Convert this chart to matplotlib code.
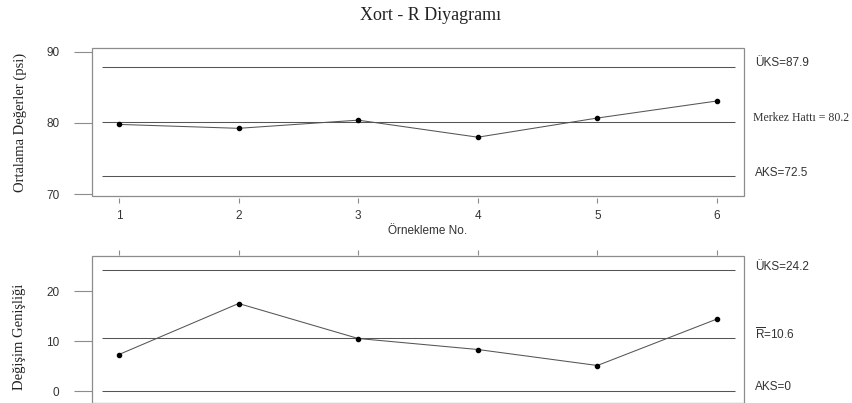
import matplotlib
matplotlib.use("Agg")
import matplotlib.pyplot as plt
from matplotlib.patches import Rectangle
from matplotlib import transforms

# ---- data ----
samples = [1, 2, 3, 4, 5, 6]
xbar = [79.8, 79.25, 80.4, 78.0, 80.7, 83.1]
ranges = [7.3, 17.5, 10.5, 8.3, 5.1, 14.4]
xbar_limits = [87.9, 80.2, 72.5]          # UKS, CL, AKS
r_limits = [24.2, 10.6, 0.0]              # UKS, Rbar, AKS
xbar_labels = ["ÜKS=87.9", "Merkez Hattı = 80.2", "AKS=72.5"]
r_labels = ["ÜKS=24.2", r"$\overline{\mathrm{R}}$=10.6", "AKS=0"]
xbar_yticks = [70, 80, 90]
r_yticks = [0, 10, 20]

plt.rcParams['mathtext.fontset'] = 'custom'
plt.rcParams['mathtext.rm'] = 'Liberation Sans'
plt.rcParams['font.family'] = 'Liberation Sans'

W, H = 852, 403
fig = plt.figure(figsize=(W / 100, H / 100), dpi=100)

def fx(px):
    return px / W

def fy(py):
    return 1 - py / H

LINE = '#555555'
FRAME = '#8c8c8c'
TICKC = '#8c8c8c'
TXT = '#333333'

ax1 = fig.add_axes([fx(92), fy(196), fx(744) - fx(92), fy(48) - fy(196)])
ax2 = fig.add_axes([fx(92), 0.0, fx(744) - fx(92), fy(256)])

xl = (0.7742, 6.2258)
ax1.set_xlim(*xl)
ax1.set_ylim(69.72, 90.56)
ax2.set_xlim(*xl)
ax2.set_ylim(-2.4, 27.0)

hl_x0, hl_x1 = 0.858, 6.15

for ax, vals, lims, ticks in [(ax1, xbar, xbar_limits, xbar_yticks),
                              (ax2, ranges, r_limits, r_yticks)]:
    for s in ax.spines.values():
        s.set_visible(False)
    ax.add_patch(Rectangle((0, 0), 1, 1, transform=ax.transAxes, fill=False,
                           ec=FRAME, lw=0.9, clip_on=False, zorder=5))
    ax.hlines(lims, hl_x0, hl_x1, colors=LINE, lw=0.75)
    ax.plot(samples, vals, color=LINE, lw=0.75, marker='o', ms=3.0,
            mfc='black', mec='black', zorder=4)
    ax.set_yticks(ticks)
    ax.tick_params(axis='y', direction='out', length=13, width=0.8,
                   color=TICKC, pad=10.5, labelsize=8.5, labelcolor=TXT)
    ax.set_xticks(samples)

ax1.spines['bottom'].set_position(('outward', 1.5))
ax1.tick_params(axis='x', direction='out', length=3.8, width=0.8,
                color=TICKC, pad=4.5, labelsize=8.5, labelcolor=TXT)
ax2.spines['top'].set_position(('outward', 0.5))
ax2.tick_params(axis='x', direction='out', length=3.8, width=0.8,
                color=TICKC, top=True, labeltop=False,
                bottom=False, labelbottom=False)

# right-side labels
sans = 'Liberation Sans'
serif = 'Liberation Serif'
for ax, lims, labs in [(ax1, xbar_limits, xbar_labels), (ax2, r_limits, r_labels)]:
    tr = transforms.blended_transform_factory(fig.transFigure, ax.transData)
    tr = transforms.offset_copy(tr, fig=fig, x=0, y=3.5, units='dots')
    for v, lab in zip(lims, labs):
        fam = serif if lab.startswith('Merkez') else sans
        xpos = fx(753) if fam == serif else fx(755)
        ax.text(xpos, v, lab, transform=tr, ha='left', va='center',
                fontsize=8.5, family=fam, color=TXT, clip_on=False)

fig.text(fx(431), fy(16), "Xort - R Diyagramı", ha='center', va='center',
         fontsize=13, family=serif, color='#222222')
fig.text(fx(20), fy(122), "Ortalama Değerler (psi)", rotation=90,
         ha='center', va='center', fontsize=10.5, family=serif, color='#222222')
fig.text(fx(20), fy(337), "Değişim Genişliği", rotation=90,
         ha='center', va='center', fontsize=10.5, family=serif, color='#222222')
fig.text(fx(428), fy(231), "Örnekleme No.", ha='center', va='center',
         fontsize=8.5, family=sans, color=TXT)

fig.savefig("out.png", dpi=100)
